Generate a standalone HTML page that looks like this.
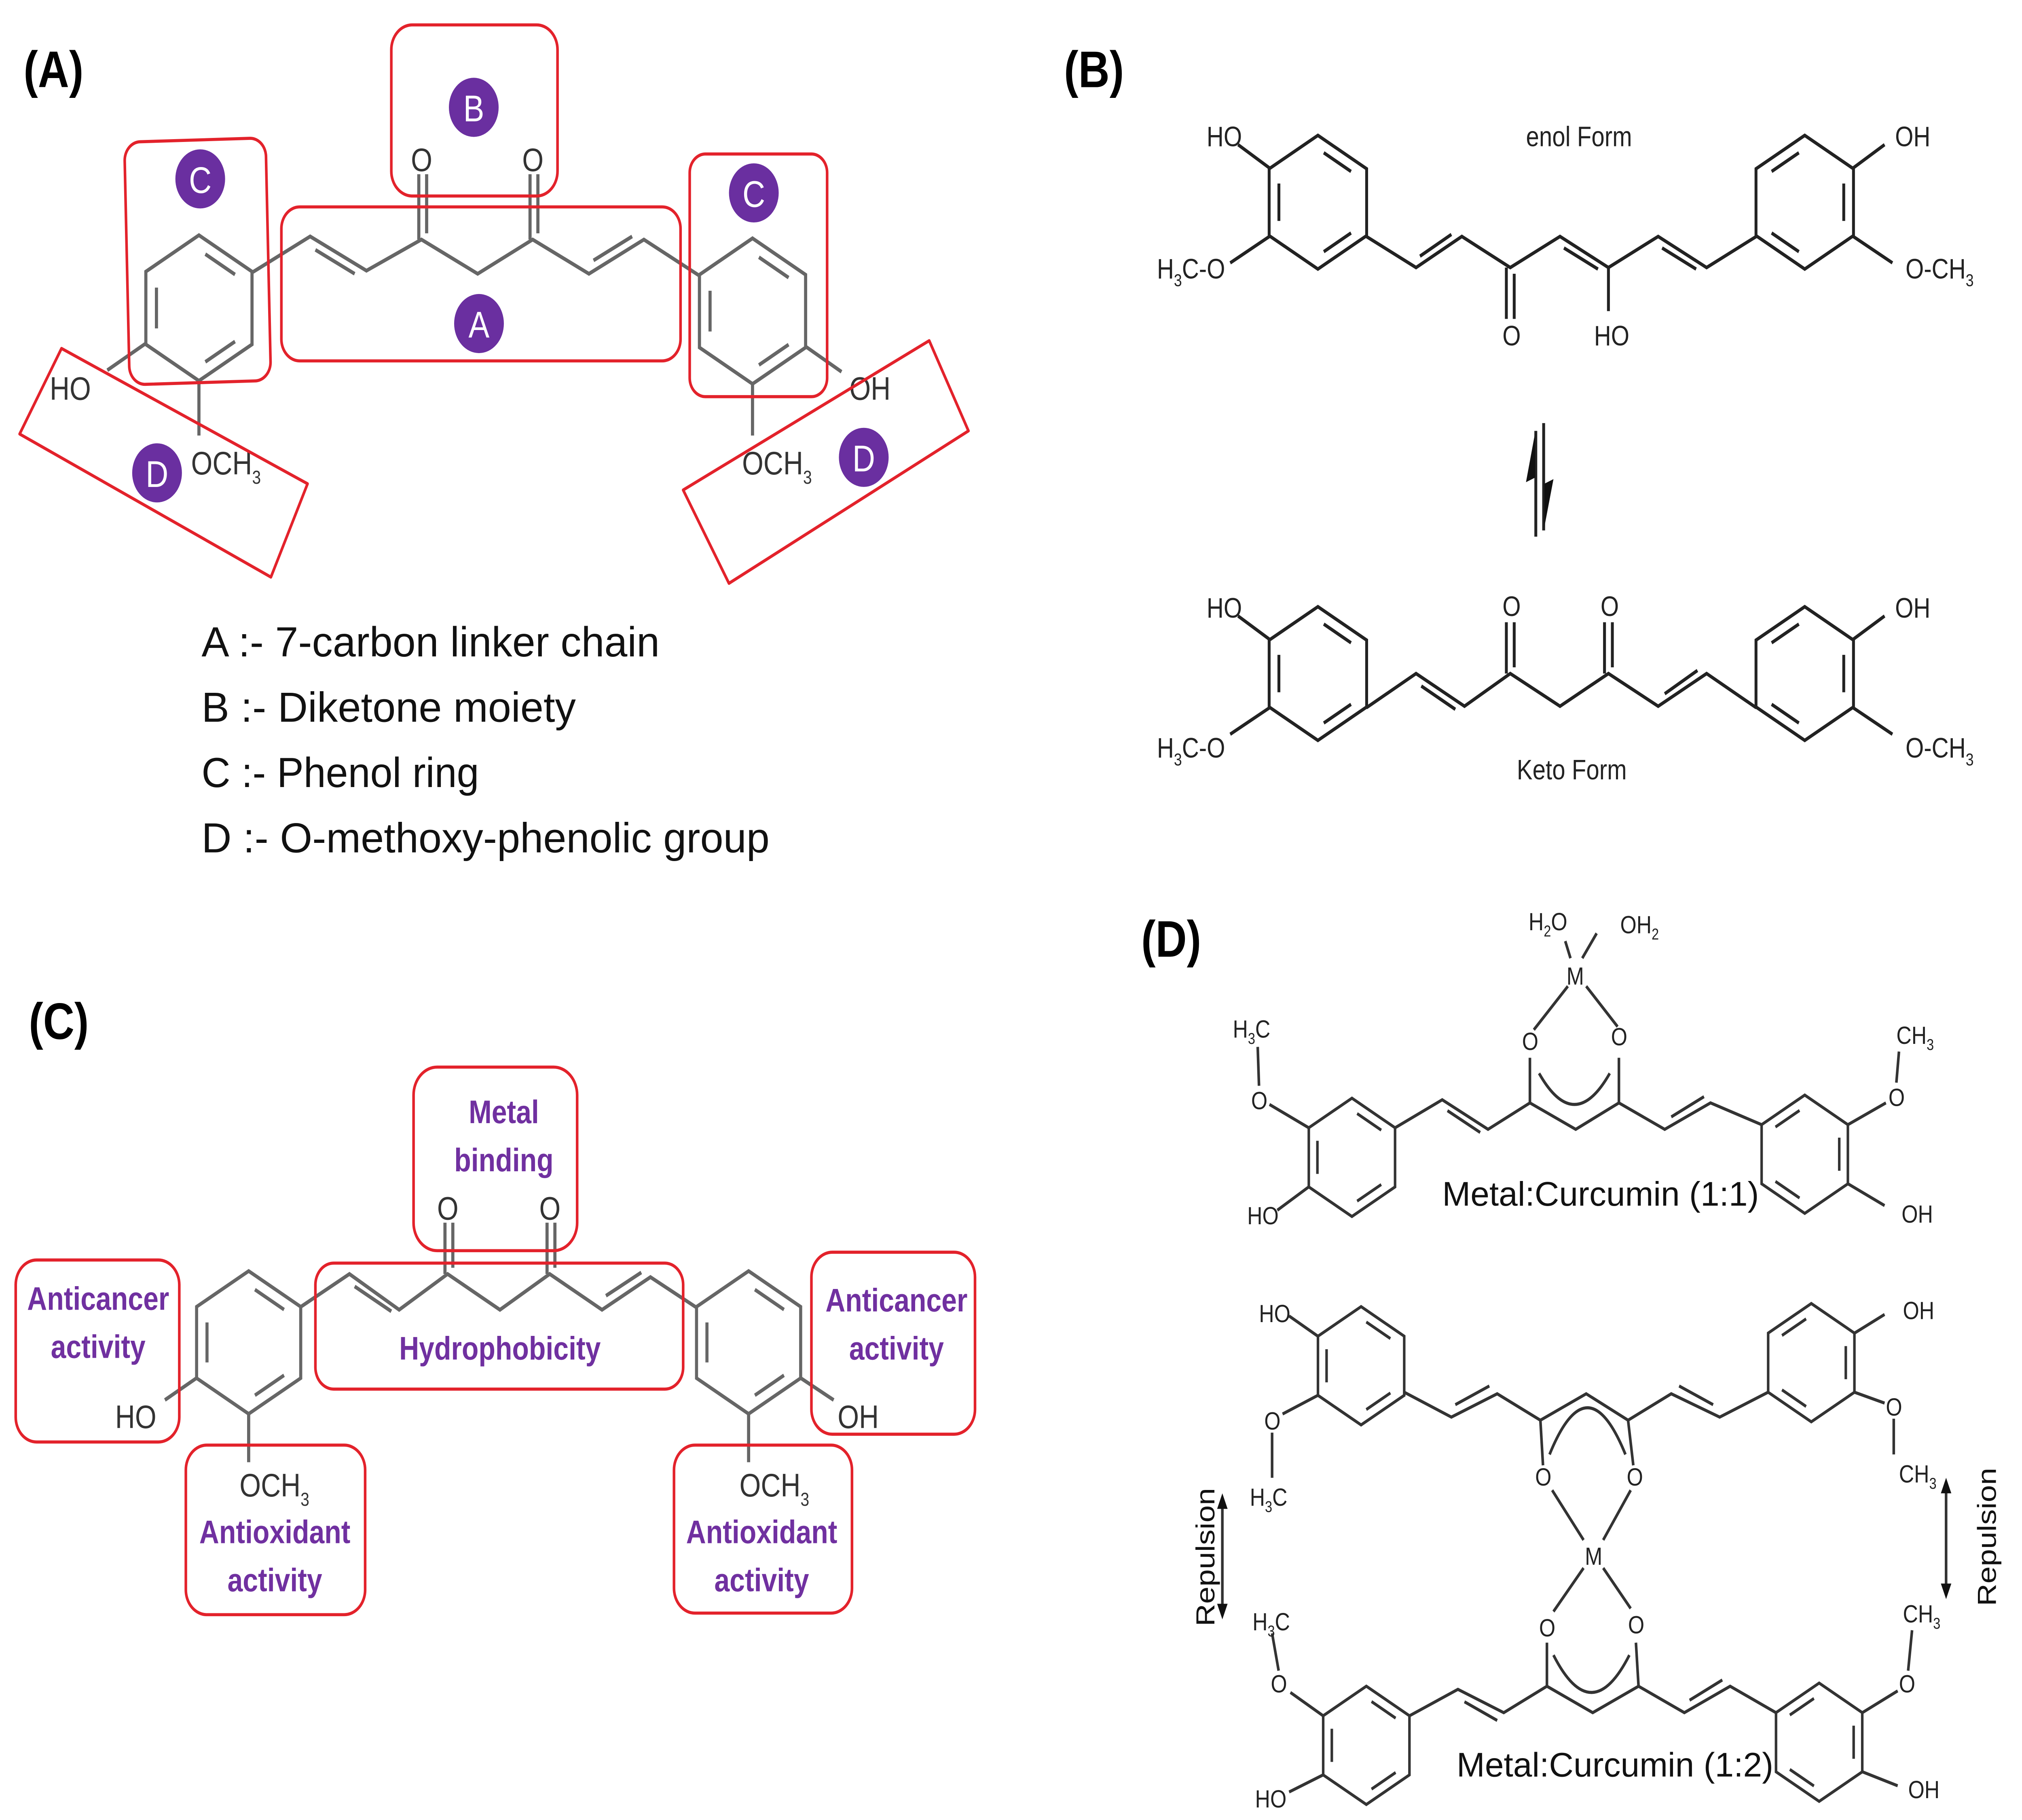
<!DOCTYPE html>
<html><head><meta charset="utf-8"><style>
html,body{margin:0;padding:0;background:#fff;width:100%;height:100%;overflow:hidden;}
svg{display:block;position:absolute;left:0;top:0;width:100vw;height:100vh;}
text{font-family:"Liberation Sans",sans-serif;}
</style></head><body>
<svg viewBox="0 0 1545 1170" preserveAspectRatio="none" xmlns="http://www.w3.org/2000/svg">
<defs>
<g id="ring" fill="none">
<path d="M0,-45 L39,-22.5 L39,22.5 L0,45 L-39,22.5 L-39,-22.5 Z"/>
<path d="M4.7,-33.3 L26.5,-20.7 M26.5,20.7 L4.7,33.3 M-31.2,12.6 L-31.2,-12.6"/>
</g>
</defs>
<rect width="1545" height="1170" fill="#fff"/>

<g font-weight="bold" font-size="33" fill="#000">
<text x="18" y="56">(A)</text>
<text x="813" y="56">(B)</text>
<text x="22" y="668">(C)</text>
<text x="872" y="615">(D)</text>
</g>

<!-- PANEL A -->
<g stroke="#666" stroke-width="2.4" fill="none">
<use href="#ring" transform="translate(152,198) scale(1.04)" stroke-width="2.3"/>
<use href="#ring" transform="translate(575,200) scale(1.04)" stroke-width="2.3"/>
<polyline points="193,175 237,152 280,174 322,154 365,176 407,154 450,176 492,154 534,177"/>
<line x1="241" y1="160.6" x2="271" y2="176"/>
<line x1="453.5" y1="167.4" x2="483" y2="152"/>
<line x1="320" y1="154" x2="320" y2="112"/><line x1="326" y1="150" x2="326" y2="112"/>
<line x1="405" y1="154" x2="405" y2="112"/><line x1="411" y1="150" x2="411" y2="112"/>
<line x1="111" y1="221" x2="82" y2="238"/>
<line x1="152" y1="245" x2="152" y2="280"/>
<line x1="616" y1="223" x2="643" y2="239"/>
<line x1="575" y1="247" x2="575" y2="280"/>
</g>
<g fill="#333" font-size="21">
<text x="314" y="110">O</text><text x="399" y="110">O</text>
<text x="38" y="257">HO</text>
<text x="146" y="305">OCH<tspan font-size="12" dy="6">3</tspan></text>
<text x="649" y="257">OH</text>
<text x="567" y="305">OCH<tspan font-size="12" dy="6">3</tspan></text>
</g>
<g stroke="#e3222b" stroke-width="2" fill="none">
<rect x="215" y="133" width="305" height="99" rx="14"/>
<rect x="299" y="16" width="127" height="110" rx="16"/>
<rect x="97" y="90" width="108" height="156" rx="12" transform="rotate(-1.5 151 168)"/>
<rect x="527" y="99" width="105" height="156" rx="12"/>
<path d="M47,224 L235,311 L207,371 L15,279 Z" stroke-linejoin="round"/>
<path d="M710,219 L740,277 L557,375 L522,315 Z" stroke-linejoin="round"/>
</g>
<g fill="#6a2fa0">
<circle cx="362" cy="69" r="19"/><circle cx="153" cy="115" r="19"/><circle cx="366" cy="208" r="19"/>
<circle cx="576" cy="124" r="19"/><circle cx="120" cy="304" r="19"/><circle cx="660" cy="294" r="19"/>
</g>
<g fill="#fff" font-size="24" text-anchor="middle">
<text x="362" y="78">B</text><text x="153" y="124">C</text><text x="366" y="217">A</text>
<text x="576" y="133">C</text><text x="120" y="313">D</text><text x="660" y="303">D</text>
</g>
<g fill="#111" font-size="27">
<text x="154" y="422" textLength="350" lengthAdjust="spacingAndGlyphs">A :- 7-carbon linker chain</text>
<text x="154" y="464" textLength="286" lengthAdjust="spacingAndGlyphs">B :- Diketone moiety</text>
<text x="154" y="506" textLength="212" lengthAdjust="spacingAndGlyphs">C :- Phenol ring</text>
<text x="154" y="548" textLength="434" lengthAdjust="spacingAndGlyphs">D :- O-methoxy-phenolic group</text>
</g>

<!-- PANEL B -->
<g stroke="#222" stroke-width="2.2" fill="none">
<use href="#ring" transform="translate(1007,130) scale(0.955)" stroke-width="2.3"/>
<use href="#ring" transform="translate(1379,130) scale(-0.955,0.955)" stroke-width="2.3"/>
<polyline points="1044,152 1082,172 1117,152 1154,172 1192,152 1229,172 1267,152 1304,172 1342,152"/>
<line x1="1085" y1="164.7" x2="1109" y2="150.7"/>
<line x1="1195" y1="159.4" x2="1221" y2="173"/>
<line x1="1270" y1="159.4" x2="1296" y2="173"/>
<line x1="1151" y1="172" x2="1151" y2="205"/><line x1="1157" y1="176" x2="1157" y2="205"/>
<line x1="1229" y1="172" x2="1229" y2="200"/>
<line x1="970" y1="108" x2="946" y2="93"/>
<line x1="970" y1="152" x2="940" y2="169"/>
<line x1="1416" y1="108" x2="1440" y2="93"/>
<line x1="1416" y1="152" x2="1446" y2="169"/>
<use href="#ring" transform="translate(1007,433) scale(0.955)" stroke-width="2.3"/>
<use href="#ring" transform="translate(1379,433) scale(-0.955,0.955)" stroke-width="2.3"/>
<polyline points="1044,455 1082,433 1119,454 1154,433 1192,454 1229,433 1267,454 1304,433 1342,455"/>
<line x1="1086" y1="441" x2="1112" y2="456"/>
<line x1="1272" y1="446" x2="1297" y2="431"/>
<line x1="1151" y1="433" x2="1151" y2="400"/><line x1="1157" y1="429" x2="1157" y2="400"/>
<line x1="1226" y1="433" x2="1226" y2="400"/><line x1="1232" y1="429" x2="1232" y2="400"/>
<line x1="970" y1="411" x2="946" y2="396"/>
<line x1="970" y1="455" x2="940" y2="472"/>
<line x1="1416" y1="411" x2="1440" y2="396"/>
<line x1="1416" y1="455" x2="1446" y2="472"/>
<line x1="1173.5" y1="277" x2="1173.5" y2="345"/>
<line x1="1179.5" y1="272" x2="1179.5" y2="341"/>
</g>
<path d="M1173,278 L1166,310 L1173,307 Z" fill="#111"/>
<path d="M1180,339 L1187,308 L1180,311 Z" fill="#111"/>
<g fill="#222" font-size="18">
<text x="1166" y="94">enol Form</text>
<text x="1148" y="222">O</text><text x="1218" y="222">HO</text>
<text x="922" y="94">HO</text>
<text x="884" y="179">H<tspan font-size="11" dy="5">3</tspan><tspan dy="-5">C-O</tspan></text>
<text x="1448" y="94">OH</text>
<text x="1456" y="179">O-CH<tspan font-size="11" dy="5">3</tspan></text>
<text x="1148" y="396">O</text><text x="1223" y="396">O</text>
<text x="922" y="397">HO</text>
<text x="884" y="487">H<tspan font-size="11" dy="5">3</tspan><tspan dy="-5">C-O</tspan></text>
<text x="1448" y="397">OH</text>
<text x="1456" y="487">O-CH<tspan font-size="11" dy="5">3</tspan></text>
<text x="1159" y="501">Keto Form</text>
</g>

<!-- PANEL C -->
<g stroke="#666" stroke-width="2.4" fill="none">
<use href="#ring" transform="translate(190,863) scale(1.02)" stroke-width="2.3"/>
<use href="#ring" transform="translate(572,863) scale(1.02)" stroke-width="2.3"/>
<polyline points="230,840 267,819 305,842 342,819 382,842 420,819 460,842 497,821 533,841"/>
<line x1="271" y1="827" x2="299" y2="843"/>
<line x1="463" y1="833" x2="490" y2="818"/>
<line x1="340" y1="819" x2="340" y2="786"/><line x1="346" y1="815" x2="346" y2="786"/>
<line x1="418" y1="819" x2="418" y2="786"/><line x1="424" y1="815" x2="424" y2="786"/>
<line x1="150" y1="886" x2="126" y2="900"/>
<line x1="190" y1="909" x2="190" y2="940"/>
<line x1="612" y1="886" x2="637" y2="900"/>
<line x1="572" y1="909" x2="572" y2="940"/>
</g>
<g fill="#333" font-size="21">
<text x="334" y="784">O</text><text x="412" y="784">O</text>
<text x="88" y="918">HO</text>
<text x="183" y="962">OCH<tspan font-size="12" dy="6">3</tspan></text>
<text x="640" y="918">OH</text>
<text x="565" y="962">OCH<tspan font-size="12" dy="6">3</tspan></text>
</g>
<g stroke="#e3222b" stroke-width="2" fill="none">
<rect x="316" y="686" width="125" height="118" rx="18"/>
<rect x="241" y="812" width="281" height="81" rx="14"/>
<rect x="12" y="810" width="125" height="117" rx="16"/>
<rect x="142" y="929" width="137" height="109" rx="16"/>
<rect x="620" y="805" width="125" height="117" rx="16"/>
<rect x="515" y="929" width="136" height="108" rx="16"/>
</g>
<g fill="#7030a0" font-size="21" font-weight="bold" text-anchor="middle">
<text x="385" y="722">Metal</text><text x="385" y="753">binding</text>
<text x="382" y="874">Hydrophobicity</text>
<text x="75" y="842">Anticancer</text><text x="75" y="873">activity</text>
<text x="210" y="992">Antioxidant</text><text x="210" y="1023">activity</text>
<text x="685" y="843">Anticancer</text><text x="685" y="874">activity</text>
<text x="582" y="992">Antioxidant</text><text x="582" y="1023">activity</text>
</g>

<!-- PANEL D -->
<g stroke="#333" stroke-width="2" fill="none">
<use href="#ring" transform="translate(1033,744) scale(0.845)" stroke-width="2.3"/>
<use href="#ring" transform="translate(1379,742) scale(-0.845,0.845)" stroke-width="2.3"/>
<polyline points="1066,725 1102,707 1137,726 1169,709 1204,726 1237,709 1272,726 1307,709 1346,723"/>
<line x1="1106" y1="714" x2="1131" y2="728"/>
<line x1="1277" y1="718" x2="1302" y2="705"/>
<line x1="1169" y1="709" x2="1169" y2="680"/>
<line x1="1237" y1="709" x2="1237" y2="680"/>
<path d="M1176,690 Q1203,730 1230,690"/>
<line x1="1172" y1="662" x2="1198" y2="634"/>
<line x1="1236" y1="660" x2="1212" y2="634"/>
<line x1="1200" y1="616" x2="1196" y2="605"/>
<line x1="1209" y1="616" x2="1220" y2="600"/>
<line x1="1000" y1="725" x2="970" y2="710"/>
<line x1="962" y1="698" x2="961" y2="673"/>
<line x1="1000" y1="763" x2="976" y2="778"/>
<line x1="1412" y1="723" x2="1441" y2="709"/>
<line x1="1449" y1="696" x2="1451" y2="676"/>
<line x1="1412" y1="761" x2="1440" y2="775"/>
<use href="#ring" transform="translate(1040,878) scale(0.845)" stroke-width="2.3"/>
<use href="#ring" transform="translate(1384,876) scale(-0.845,0.845)" stroke-width="2.3"/>
<polyline points="1073,895 1109,911 1144,896 1177,913 1212,896 1244,913 1277,896 1314,911 1351,895"/>
<line x1="1112" y1="903" x2="1138" y2="891"/>
<line x1="1283" y1="891" x2="1309" y2="903"/>
<line x1="1177" y1="913" x2="1179" y2="942"/>
<line x1="1244" y1="913" x2="1248" y2="942"/>
<path d="M1184,935 Q1213,875 1242,935"/>
<line x1="1186" y1="958" x2="1210" y2="990"/>
<line x1="1246" y1="958" x2="1225" y2="990"/>
<line x1="1210" y1="1008" x2="1187" y2="1036"/>
<line x1="1225" y1="1008" x2="1246" y2="1034"/>
<line x1="1007" y1="859" x2="985" y2="846"/>
<line x1="1007" y1="897" x2="980" y2="909"/>
<line x1="972" y1="921" x2="972" y2="950"/>
<line x1="1417" y1="857" x2="1440" y2="845"/>
<line x1="1417" y1="895" x2="1440" y2="902"/>
<line x1="1447" y1="912" x2="1447" y2="935"/>
<use href="#ring" transform="translate(1044,1122) scale(0.845)" stroke-width="2.3"/>
<use href="#ring" transform="translate(1390,1120) scale(-0.845,0.845)" stroke-width="2.3"/>
<polyline points="1077,1103 1114,1086 1149,1101 1182,1084 1217,1101 1252,1084 1287,1101 1322,1084 1357,1101"/>
<line x1="1119" y1="1094" x2="1144" y2="1106"/>
<line x1="1291" y1="1093" x2="1316" y2="1080"/>
<line x1="1182" y1="1084" x2="1182" y2="1056"/>
<line x1="1252" y1="1084" x2="1250" y2="1056"/>
<path d="M1187,1064 Q1216,1112 1245,1064"/>
<line x1="1011" y1="1103" x2="986" y2="1088"/>
<line x1="977" y1="1074" x2="972" y2="1050"/>
<line x1="1011" y1="1141" x2="985" y2="1152"/>
<line x1="1423" y1="1101" x2="1450" y2="1087"/>
<line x1="1458" y1="1074" x2="1461" y2="1048"/>
<line x1="1423" y1="1139" x2="1450" y2="1148"/>
<line x1="934" y1="968" x2="934" y2="1033"/>
<line x1="1487" y1="958" x2="1487" y2="1020"/>
</g>
<g fill="#111">
<path d="M934,960 L930,970 L938,970 Z"/><path d="M934,1041 L930,1031 L938,1031 Z"/>
<path d="M1487,950 L1483,960 L1491,960 Z"/><path d="M1487,1028 L1483,1018 L1491,1018 Z"/>
</g>
<g fill="#222" font-size="16">
<text x="1168" y="598">H<tspan font-size="10" dy="4">2</tspan><tspan dy="-4">O</tspan></text>
<text x="1238" y="600">OH<tspan font-size="10" dy="4">2</tspan></text>
<text x="1197" y="633">M</text>
<text x="1163" y="675">O</text><text x="1231" y="672">O</text>
<text x="942" y="667">H<tspan font-size="10" dy="4">3</tspan><tspan dy="-4">C</tspan></text>
<text x="956" y="713">O</text>
<text x="953" y="787">HO</text>
<text x="1449" y="671">CH<tspan font-size="10" dy="4">3</tspan></text>
<text x="1443" y="711">O</text>
<text x="1453" y="786">OH</text>
<text x="962" y="850">HO</text>
<text x="966" y="919">O</text>
<text x="955" y="968">H<tspan font-size="10" dy="4">3</tspan><tspan dy="-4">C</tspan></text>
<text x="1454" y="848">OH</text>
<text x="1441" y="910">O</text>
<text x="1451" y="953">CH<tspan font-size="10" dy="4">3</tspan></text>
<text x="1173" y="955">O</text><text x="1243" y="955">O</text>
<text x="1211" y="1006">M</text>
<text x="1176" y="1052">O</text><text x="1244" y="1050">O</text>
<text x="957" y="1048">H<tspan font-size="10" dy="4">3</tspan><tspan dy="-4">C</tspan></text>
<text x="971" y="1088">O</text>
<text x="959" y="1162">HO</text>
<text x="1454" y="1043">CH<tspan font-size="10" dy="4">3</tspan></text>
<text x="1451" y="1088">O</text>
<text x="1458" y="1156">OH</text>
</g>
<g fill="#111" font-size="22">
<text x="1102" y="775" textLength="242" lengthAdjust="spacingAndGlyphs">Metal:Curcumin  (1:1)</text>
<text x="1113" y="1142" textLength="242" lengthAdjust="spacingAndGlyphs">Metal:Curcumin  (1:2)</text>
<text transform="translate(928,1001) rotate(-90)" text-anchor="middle" font-size="20">Repulsion</text>
<text transform="translate(1525,988) rotate(-90)" text-anchor="middle" font-size="20">Repulsion</text>
</g>
</svg>
</body></html>
